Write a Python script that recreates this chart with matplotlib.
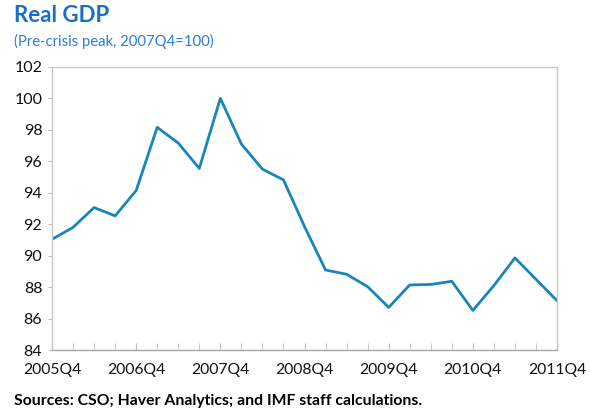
import matplotlib
matplotlib.use("Agg")
import matplotlib.pyplot as plt
import numpy as np

plt.rcParams['font.family'] = ['Lato', 'DejaVu Sans']

quarters = ["2005Q4", "2006Q1", "2006Q2", "2006Q3", "2006Q4", "2007Q1", "2007Q2", "2007Q3",
            "2007Q4", "2008Q1", "2008Q2", "2008Q3", "2008Q4", "2009Q1", "2009Q2", "2009Q3",
            "2009Q4", "2010Q1", "2010Q2", "2010Q3", "2010Q4", "2011Q1", "2011Q2", "2011Q3",
            "2011Q4"]
gdp = [91.04, 91.8, 93.06, 92.53, 94.14, 98.16, 97.16, 95.55,
       100.0, 97.1, 95.5, 94.82, 91.85, 89.09, 88.82, 88.03,
       86.71, 88.14, 88.17, 88.37, 86.52, 88.1, 89.86, 88.5,
       87.14]
yticks = [84, 86, 88, 90, 92, 94, 96, 98, 100, 102]

fig = plt.figure(figsize=(5.91, 4.08), dpi=100)
ax = fig.add_axes([0.088, 0.142, 0.8545, 0.694])
x = np.arange(len(quarters))
ax.plot(x, gdp, color='#1a86b8', lw=2.0)
ax.set_xlim(0, len(quarters) - 1)
ax.set_ylim(84, 102)
ax.set_yticks(yticks)
ax.set_xticks(x[::4])
ax.set_xticklabels(quarters[::4])
ax.set_xticks(x, minor=True)
for s in ax.spines.values():
    s.set_color('#c8c8c8')
    s.set_linewidth(1.0)
ax.spines['bottom'].set_color('#a8a8a8')
ax.tick_params(axis='x', which='both', direction='in', length=5, color='#c0c0c0',
               labelsize=11.3, pad=9, labelcolor='#111111')
ax.tick_params(axis='y', direction='out', length=3, color='#c0c0c0',
               labelsize=11.5, pad=4, labelcolor='#111111')
fig.text(0.023, 0.963, "Real GDP", color='#1a6fc4', fontsize=16, fontweight='bold', va='center')
fig.text(0.023, 0.898, "(Pre-crisis peak, 2007Q4=100)", color='#2a7fd0', fontsize=10.7, va='center')
fig.text(0.023, 0.016, "Sources: CSO; Haver Analytics; and IMF staff calculations.",
         color='#000000', fontsize=11.3, fontweight='bold', va='center')
fig.savefig("out.png", dpi=100)
